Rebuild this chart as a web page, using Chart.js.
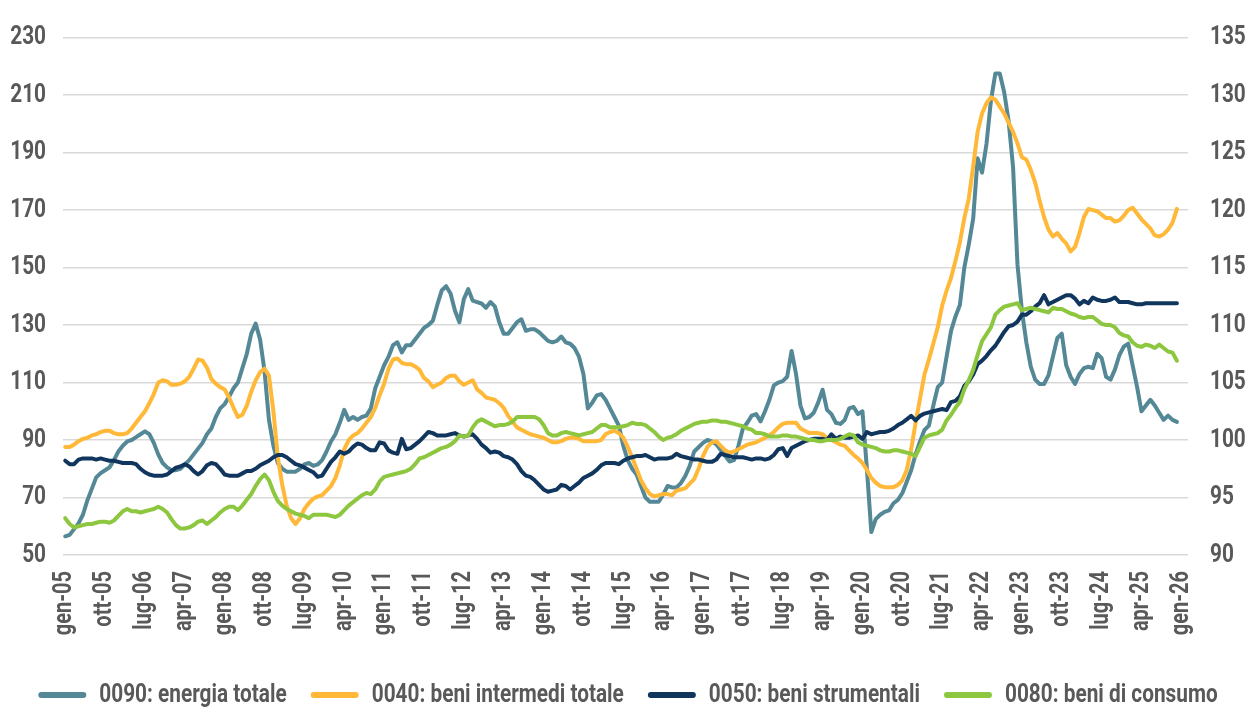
<!DOCTYPE html>
<html>
<head>
<meta charset="utf-8">
<script src="https://cdn.jsdelivr.net/npm/chart.js@4.4.1/dist/chart.umd.min.js"></script>
<style>
  html, body { margin: 0; padding: 0; background: #fff; }
  #chart { display: block; }
</style>
</head>
<body>
<canvas id="chart" width="1256" height="708"></canvas>
<script>
// monthly categories, gen-05 .. feb-26 (data stops at dic-25)
const monthNames = ["gen", "feb", "mar", "apr", "mag", "giu", "lug", "ago", "set", "ott", "nov", "dic"];
const years = ["05","06","07","08","09","10","11","12","13","14","15","16","17","18","19","20","21","22","23","24","25","26"];
const categories = [];
years.forEach((y) => monthNames.forEach((m) => categories.push(m + "-" + y)));
categories.length = 254;

// shown on the x axis, one every 9 months
const xTickLabels = [
  "gen-05", "ott-05", "lug-06", "apr-07", "gen-08", "ott-08", "lug-09", "apr-10",
  "gen-11", "ott-11", "lug-12", "apr-13", "gen-14", "ott-14", "lug-15", "apr-16",
  "gen-17", "ott-17", "lug-18", "apr-19", "gen-20", "ott-20", "lug-21", "apr-22",
  "gen-23", "ott-23", "lug-24", "apr-25", "gen-26"
];

const seriesNames = [
  "0090: energia totale",
  "0040: beni intermedi totale",
  "0050: beni strumentali",
  "0080: beni di consumo"
];

// left axis
const energia = [
  56.5, 57, 59, 61, 64, 69, 73, 77, 78.5, 79.5, 80.5, 83,
  86, 88, 89.5, 90, 91, 92, 93, 92, 89, 85, 82, 80.5,
  79.5, 79.5, 80, 81.5, 83, 85, 87, 89, 92, 94, 98, 101,
  102.5, 105, 108, 110, 115, 120, 127, 130.5, 125, 114, 97, 88,
  82, 80, 79, 79, 79, 80, 81.5, 82, 81, 81.5, 83, 86,
  89.5, 92, 96, 100.5, 97, 98, 97, 98, 98.5, 101, 108, 112,
  116, 119, 123, 124, 120.5, 123, 123, 125, 127, 129, 130, 131.5,
  137, 142, 143.5, 141, 135, 131, 139, 142.5, 138.5, 138, 137.5, 136,
  138, 136.5, 131, 127, 127, 129, 131, 132, 128, 128.5, 128.5, 127.5,
  126, 124.5, 124, 124.5, 126, 124, 123.5, 122, 119, 113, 101, 103,
  105.5, 106, 104, 101, 98, 95, 88, 83, 80, 78, 74, 70,
  68.5, 68.5, 68.5, 71, 74, 73.5, 73.5, 75, 77.5, 81, 86, 87.5,
  89, 90, 89.5, 88.5, 86.5, 84.5, 82.5, 83, 88, 94, 96, 98.5,
  99, 96.5, 100, 104, 109, 110, 110.5, 112, 121, 113, 102, 97.5,
  98, 99.5, 103, 107.5, 100.5, 99, 96, 95.6, 97, 101, 101.5, 99,
  100, 80, 58, 62.5, 64, 65, 65.5, 68, 69.2, 71.5, 75.5, 79.5,
  85, 89.5, 93.5, 95, 102, 108.4, 110, 119, 128, 133, 137, 150,
  158, 167, 188, 183, 193, 208, 217.5, 217.5, 211, 201, 185, 151,
  135, 124, 115.5, 111, 109.5, 109.5, 112.5, 119, 125.5, 127, 116, 112,
  109.5, 113, 115, 115.5, 115, 120, 118.5, 112, 111, 114.5, 119.5, 122.5,
  123.5, 116, 108.5, 100, 102, 104, 102, 99.5, 97, 98.5, 97, 96.3
];

// right axis
const intermedi = [
  99.4, 99.4, 99.6, 99.9, 100.1, 100.2, 100.4, 100.5, 100.7, 100.8, 100.8, 100.6,
  100.5, 100.5, 100.6, 101, 101.5, 102, 102.5, 103.2, 104, 105, 105.2, 105.1,
  104.8, 104.8, 104.9, 105.1, 105.5, 106.2, 107, 106.9, 106.3, 105.3, 104.9, 104.6,
  104.4, 103.7, 102.8, 102, 102.2, 103, 104.2, 105.2, 105.9, 106.2, 105.6, 102.5,
  98.5, 96.1, 94.3, 93.2, 92.7, 93.2, 94, 94.5, 94.9, 95.1, 95.2, 95.6,
  96, 96.7, 97.8, 99.2, 100, 100.4, 100.6, 101, 101.5, 102, 102.8, 103.9,
  104.9, 106.2, 107, 107.1, 106.7, 106.6, 106.6, 106.4, 106.1, 105.4, 105.1, 104.6,
  104.8, 105, 105.4, 105.6, 105.6, 105.1, 104.8, 105, 105.2, 104.4, 104.1, 103.7,
  103.6, 103.5, 103.2, 102.8, 102.1, 101.6, 101.1, 100.9, 100.7, 100.5, 100.4, 100.3,
  100.2, 100, 99.8, 99.8, 99.9, 100.1, 100.2, 100.2, 100.1, 99.9, 99.9, 99.9,
  99.9, 100, 100.5, 100.7, 100.8, 100.6, 100.2, 99.4, 98.5, 97.5, 96.5, 95.8,
  95.3, 95.1, 95.2, 95.3, 95.3, 95.2, 95.6, 95.7, 95.8, 96.2, 96.6, 97.5,
  98.6, 99.4, 99.8, 99.9, 99.5, 99.1, 98.9, 99, 99.2, 99.4, 99.6, 99.7,
  99.8, 100, 100.2, 100.4, 100.7, 101.1, 101.4, 101.5, 101.5, 101.5, 101, 100.8,
  100.6, 100.6, 100.6, 100.5, 100.2, 100, 99.8, 99.6, 99.5, 99.1, 98.7, 98.4,
  98, 97.4, 96.7, 96.3, 96, 95.9, 95.9, 95.9, 96.1, 96.5, 97.4, 99.2,
  101.5, 103.6, 105.7, 107, 108.4, 109.8, 111.7, 113, 114.1, 115.6, 117.2, 119.3,
  121, 123.8, 126.8, 128.4, 129.3, 129.8, 129.6, 129, 128.4, 127.6, 126.8, 125.8,
  124.6, 124.4, 123.5, 122.4, 120.8, 119.4, 118.3, 117.7, 118, 117.5, 117.1, 116.4,
  116.8, 118, 119.4, 120.1, 120, 119.9, 119.6, 119.3, 119.3, 119, 119.1, 119.5,
  120, 120.2, 119.7, 119.2, 118.8, 118.4, 117.8, 117.7, 117.9, 118.3, 118.9, 120.1
];

const strumentali = [
  98.2, 97.9, 97.9, 98.3, 98.4, 98.4, 98.4, 98.3, 98.4, 98.3, 98.2, 98.2,
  98.1, 98, 98, 98, 97.9, 97.5, 97.2, 97, 96.9, 96.9, 96.9, 97,
  97.3, 97.6, 97.7, 97.9, 97.7, 97.3, 97, 97.3, 97.8, 98, 97.9, 97.5,
  97, 96.9, 96.9, 96.9, 97.1, 97.3, 97.3, 97.5, 97.8, 98, 98.2, 98.5,
  98.7, 98.7, 98.5, 98.2, 97.9, 97.8, 97.6, 97.4, 97.2, 96.8, 96.9, 97.5,
  98.1, 98.5, 99, 98.8, 99, 99.4, 99.7, 99.6, 99.3, 99.1, 99.1, 99.8,
  99.7, 99.1, 98.9, 98.8, 100.1, 99.2, 99.3, 99.6, 99.9, 100.3, 100.7, 100.6,
  100.4, 100.4, 100.4, 100.5, 100.6, 100.4, 100.3, 100.4, 100.5, 100.1, 99.6, 99.3,
  98.9, 99, 98.9, 98.6, 98.5, 98.3, 97.9, 97.3, 96.9, 96.8, 96.5, 96.1,
  95.7, 95.5, 95.6, 95.7, 96.1, 96, 95.7, 96, 96.3, 96.7, 96.9, 97.1,
  97.4, 97.8, 98, 98, 98, 97.9, 98.2, 98.4, 98.5, 98.6, 98.6, 98.7,
  98.5, 98.3, 98.4, 98.4, 98.4, 98.5, 98.8, 98.6, 98.5, 98.4, 98.3, 98.3,
  98.2, 98.1, 98.1, 98.3, 98.8, 98.7, 98.6, 98.5, 98.5, 98.5, 98.4, 98.3,
  98.4, 98.4, 98.3, 98.4, 98.7, 99.2, 99.3, 98.6, 99.3, 99.5, 99.7, 99.9,
  100, 100.1, 100.1, 100.1, 100, 100.5, 100.1, 100.3, 100.2, 100.2, 100.3, 100.4,
  100.1, 100.7, 100.5, 100.6, 100.7, 100.7, 100.8, 101, 101.3, 101.5, 101.8, 102.1,
  101.7, 102.1, 102.3, 102.4, 102.5, 102.6, 102.7, 102.6, 103.3, 103.4, 103.8, 104.7,
  105.1, 105.7, 106.6, 106.9, 107.3, 107.8, 108.2, 108.8, 109.4, 109.9, 110, 110.3,
  110.9, 110.9, 111.2, 111.6, 111.9, 112.6, 111.8, 112, 112.2, 112.4, 112.6, 112.6,
  112.3, 111.8, 112.1, 111.9, 112.4, 112.2, 112.1, 112.1, 112.2, 112.4, 112, 112,
  112, 111.9, 111.8, 111.8, 111.9, 111.9, 111.9, 111.9, 111.9, 111.9, 111.9, 111.9
];

const consumo = [
  93.2, 92.7, 92.4, 92.5, 92.6, 92.7, 92.7, 92.8, 92.9, 92.9, 92.8, 93,
  93.4, 93.8, 94, 93.8, 93.8, 93.7, 93.8, 93.9, 94, 94.2, 94, 93.7,
  93.1, 92.6, 92.3, 92.3, 92.4, 92.6, 92.9, 93, 92.7, 93, 93.3, 93.7,
  94, 94.2, 94.2, 93.9, 94.3, 94.8, 95.3, 96, 96.6, 97, 96.5, 95.5,
  94.7, 94.3, 94, 93.8, 93.6, 93.5, 93.4, 93.2, 93.5, 93.5, 93.5, 93.5,
  93.4, 93.3, 93.5, 93.9, 94.3, 94.6, 94.9, 95.2, 95.4, 95.3, 95.7, 96.4,
  96.8, 96.9, 97, 97.1, 97.2, 97.3, 97.5, 97.9, 98.4, 98.5, 98.7, 98.9,
  99.1, 99.3, 99.4, 99.6, 99.9, 100.4, 100.3, 100.4, 101.1, 101.6, 101.8, 101.6,
  101.4, 101.2, 101.3, 101.3, 101.4, 101.6, 102, 102, 102, 102, 102, 101.8,
  101.3, 100.6, 100.4, 100.4, 100.6, 100.7, 100.6, 100.5, 100.4, 100.5, 100.6, 100.7,
  101, 101.3, 101.3, 101.1, 101.1, 101.1, 101.2, 101.3, 101.5, 101.4, 101.4, 101.3,
  101, 100.7, 100.3, 100, 100.2, 100.3, 100.5, 100.8, 101, 101.2, 101.4, 101.5,
  101.6, 101.6, 101.7, 101.7, 101.6, 101.6, 101.5, 101.4, 101.3, 101.2, 101, 100.9,
  100.6, 100.6, 100.5, 100.3, 100.3, 100.3, 100.4, 100.4, 100.3, 100.3, 100.2, 100.1,
  100, 100, 99.9, 99.9, 100, 100, 100, 100.1, 100.3, 100.5, 100.4, 99.8,
  99.6, 99.5, 99.4, 99.3, 99.1, 99, 99, 99.1, 99.1, 99, 98.9, 98.8,
  98.6, 99.4, 100.2, 100.4, 100.5, 100.6, 100.9, 101.7, 102.2, 102.8, 103.3, 104.4,
  105.2, 106.1, 107.4, 108.6, 109.2, 109.8, 110.9, 111.3, 111.6, 111.7, 111.8, 111.9,
  111.3, 111.4, 111.5, 111.4, 111.3, 111.2, 111.1, 111.5, 111.4, 111.4, 111.2, 111,
  110.9, 110.7, 110.6, 110.7, 110.7, 110.4, 110.1, 110, 110, 109.8, 109.3, 109.1,
  109, 108.5, 108.2, 108.1, 108.3, 108.2, 108, 108.3, 108, 107.7, 107.6, 106.9
];

const colors = ["#548896", "#ffb838", "#10365e", "#8dc63f"];
const fontFamily = "Roboto, 'Liberation Sans', sans-serif";
const textColor = "#595959";

// no condensed face is installed, so squeeze all canvas text horizontally
const squeeze = 0.8;
const ctxProto = CanvasRenderingContext2D.prototype;
const baseFillText = ctxProto.fillText;
const baseMeasureText = ctxProto.measureText;
ctxProto.fillText = function (text, x, y) {
  this.save();
  this.translate(x, y);
  this.scale(squeeze, 1);
  baseFillText.call(this, text, 0, 0);
  this.restore();
};
ctxProto.measureText = function (text) {
  const m = baseMeasureText.call(this, text);
  return {
    width: m.width * squeeze,
    actualBoundingBoxAscent: m.actualBoundingBoxAscent,
    actualBoundingBoxDescent: m.actualBoundingBoxDescent,
    actualBoundingBoxLeft: m.actualBoundingBoxLeft * squeeze,
    actualBoundingBoxRight: m.actualBoundingBoxRight * squeeze
  };
};

const makeLine = (i, data, axis) => ({
  label: seriesNames[i],
  data: data,
  yAxisID: axis,
  borderColor: colors[i],
  backgroundColor: colors[i],
  borderWidth: 4,
  pointRadius: 0,
  tension: 0,
  borderJoinStyle: "round",
  borderCapStyle: "round",
  order: 4 - i
});

new Chart(document.getElementById("chart"), {
  type: "line",
  data: {
    labels: categories,
    datasets: [
      makeLine(0, energia, "y"),
      makeLine(1, intermedi, "y1"),
      makeLine(2, strumentali, "y1"),
      makeLine(3, consumo, "y1")
    ]
  },
  options: {
    responsive: false,
    animation: false,
    devicePixelRatio: 1,
    layout: { padding: { top: 22, right: 0, bottom: -10, left: 0 } },
    plugins: {
      tooltip: { enabled: false },
      legend: {
        position: "bottom",
        labels: {
          color: textColor,
          font: { family: fontFamily, size: 26, weight: "bold" },
          boxWidth: 48,
          boxHeight: 6,
          padding: 24,
          sort: (a, b) => a.datasetIndex - b.datasetIndex,
          generateLabels: (chart) =>
            Chart.defaults.plugins.legend.labels.generateLabels(chart).map((item) => ({
              ...item,
              lineWidth: 0,
              borderRadius: 3
            }))
        }
      }
    },
    scales: {
      x: {
        offset: true,
        grid: { display: false },
        border: { display: false },
        ticks: {
          autoSkip: false,
          minRotation: 90,
          maxRotation: 90,
          padding: 8,
          color: textColor,
          font: { family: fontFamily, size: 25, weight: "bold" },
          callback: (val, idx) => (idx % 9 === 0 ? xTickLabels[idx / 9] : "")
        },
        afterFit: (scale) => {
          const legendH = scale.chart.legend ? scale.chart.legend.height : 0;
          scale.height = 708 + 10 - 555 - legendH;
        }
      },
      y: {
        position: "left",
        min: 50,
        max: 230,
        grid: { color: "#d9d9d9", lineWidth: 1.5, drawTicks: false },
        border: { display: false },
        ticks: {
          stepSize: 20,
          padding: 17,
          color: textColor,
          font: { family: fontFamily, size: 26, weight: "bold" }
        },
        afterFit: (scale) => { scale.width = 63; }
      },
      y1: {
        position: "right",
        min: 90,
        max: 135,
        grid: { display: false, drawTicks: false },
        border: { display: false },
        ticks: {
          stepSize: 5,
          padding: 22,
          color: textColor,
          font: { family: fontFamily, size: 26, weight: "bold" }
        },
        afterFit: (scale) => { scale.width = 68; }
      }
    }
  }
});
</script>
</body>
</html>
